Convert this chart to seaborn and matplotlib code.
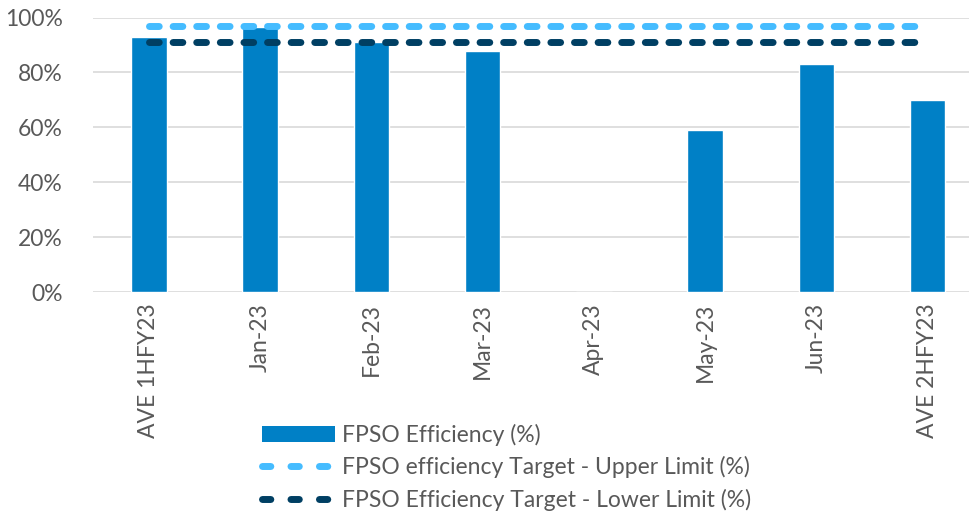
import matplotlib
matplotlib.use("Agg")
import matplotlib.pyplot as plt
import seaborn as sns
import pandas as pd
from matplotlib.ticker import PercentFormatter

categories = ["AVE 1HFY23", "Jan-23", "Feb-23", "Mar-23", "Apr-23", "May-23", "Jun-23", "AVE 2HFY23"]
efficiency = [93, 96.5, 91, 88, 0, 59, 83, 70]
upper_limit = [97, 97, 97, 97, 97, 97, 97, 97]
lower_limit = [91, 91, 91, 91, 91, 91, 91, 91]

df = pd.DataFrame({"period": categories, "eff": efficiency,
                   "upper": upper_limit, "lower": lower_limit})

sns.set_theme(style="white")
plt.rcParams["font.family"] = ["Lato", "DejaVu Sans"]

text_color = "#595959"
fig = plt.figure(figsize=(9.7, 5.17), dpi=100)
ax = fig.add_axes([0.096, 0.435, 0.912, 0.531])

sns.barplot(data=df, x="period", y="eff", color="#0080C6", width=0.32,
            saturation=1, ax=ax, label="FPSO Efficiency (%)")
sns.lineplot(data=df, x="period", y="upper", color="#45BCFF", lw=5, sort=False,
             ax=ax, label="FPSO efficiency Target - Upper Limit (%)", dashes=False)
sns.lineplot(data=df, x="period", y="lower", color="#003F63", lw=5, sort=False,
             ax=ax, label="FPSO Efficiency Target - Lower Limit (%)", dashes=False)
for line in ax.lines:
    line.set_dashes((1.4, 2.0))
    line.set_dash_capstyle("round")

ax.set_ylim(0, 100)
ax.set_xlim(-0.5, 7.45)
ax.set_yticks(range(0, 101, 20))
ax.yaxis.set_major_formatter(PercentFormatter(decimals=0))
ax.grid(axis="y", color="#D9D9D9", lw=1.2)
ax.set_axisbelow(True)
for s in ax.spines.values():
    s.set_visible(False)
ax.set_xlabel("")
ax.set_ylabel("")
ax.tick_params(axis="both", length=0, labelsize=16.5, labelcolor=text_color)
ax.tick_params(axis="y", pad=22)
ax.tick_params(axis="x", pad=8)
plt.setp(ax.get_xticklabels(), rotation=90)

handles, labels = ax.get_legend_handles_labels()
order = [labels.index(l) for l in ["FPSO Efficiency (%)",
                                   "FPSO efficiency Target - Upper Limit (%)",
                                   "FPSO Efficiency Target - Lower Limit (%)"]]
handles = [handles[i] for i in order]
labels = [labels[i] for i in order]
ax.get_legend().remove()
leg = fig.legend(handles, labels, loc="upper left", bbox_to_anchor=(0.27, 0.18),
                 frameon=False, fontsize=16.5, handlelength=3.2, labelspacing=0.45,
                 handletextpad=0.3, borderaxespad=0, borderpad=0)
leg.legend_handles[0].set_edgecolor("none")
for h in leg.legend_handles[1:]:
    h.set_dashes((1.2, 2.9))
    h.set_dash_capstyle("round")
for t in leg.get_texts():
    t.set_color(text_color)

fig.savefig("out.png", dpi=100)
